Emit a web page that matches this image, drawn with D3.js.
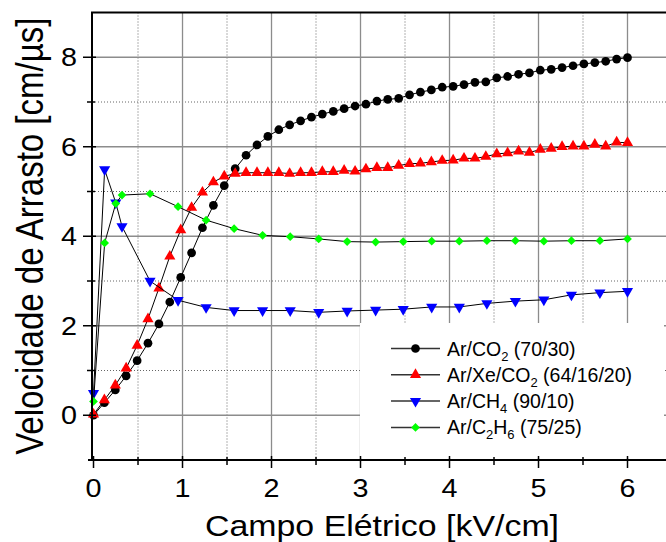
<!DOCTYPE html>
<meta charset="utf-8">
<head>
    <style>
        body {margin: 0; background: #fff;}
        text {font-family: "Liberation Sans", Arial, sans-serif; fill: black;}
        .grid-major {stroke: #8c8c8c; stroke-width: 1.3;}
        .grid-minor {stroke: #666; stroke-width: 1; stroke-dasharray: 1,2;}
        .axis {stroke: black; stroke-width: 2;}
        .tick {stroke: black; stroke-width: 1.5;}
        .trace {fill: none; stroke: black; stroke-width: 1;}
    </style>
    <script src="https://d3js.org/d3.v7.min.js"></script>
</head>
<body>
<script>

    // campo eletrico (kV/cm) for Ar/CO2 and Ar/Xe/CO2
    var fieldA = [0, 0.122, 0.245, 0.367, 0.49, 0.612, 0.735, 0.857, 0.98, 1.102,
                  1.224, 1.347, 1.469, 1.592, 1.714, 1.837, 1.959, 2.082, 2.204, 2.327,
                  2.449, 2.571, 2.694, 2.816, 2.939, 3.061, 3.184, 3.306, 3.429, 3.551,
                  3.673, 3.796, 3.918, 4.041, 4.163, 4.286, 4.408, 4.531, 4.653, 4.776,
                  4.898, 5.02, 5.143, 5.265, 5.388, 5.51, 5.633, 5.755, 5.878, 6.0];

    var arCO2 = [0, 0.28, 0.565, 0.88, 1.22, 1.61, 2.04, 2.53, 3.08, 3.63,
                 4.19, 4.69, 5.13, 5.51, 5.81, 6.04, 6.23, 6.38, 6.49, 6.58,
                 6.66, 6.73, 6.79, 6.85, 6.91, 6.95, 7.02, 7.06, 7.08, 7.16,
                 7.22, 7.27, 7.33, 7.35, 7.39, 7.44, 7.45, 7.54, 7.57, 7.62,
                 7.65, 7.71, 7.73, 7.77, 7.81, 7.85, 7.88, 7.91, 7.96, 7.99];

    var arXeCO2 = [0.02, 0.34, 0.67, 1.05, 1.56, 2.15, 2.84, 3.55, 4.14, 4.64,
                   4.98, 5.21, 5.34, 5.40, 5.42, 5.42, 5.42, 5.42, 5.40, 5.42,
                   5.42, 5.44, 5.44, 5.47, 5.45, 5.50, 5.53, 5.53, 5.58, 5.62,
                   5.63, 5.66, 5.69, 5.70, 5.74, 5.74, 5.78, 5.84, 5.86, 5.90,
                   5.87, 5.94, 5.96, 6.00, 6.01, 6.01, 6.05, 6.01, 6.10, 6.09];

    // campo eletrico for Ar/CH4 and Ar/C2H6
    var fieldB = [0, 0.125, 0.25, 0.32, 0.635, 0.95, 1.265, 1.58, 1.9, 2.21, 2.53,
                  2.85, 3.17, 3.48, 3.8, 4.11, 4.42, 4.74, 5.06, 5.37, 5.69, 6.0];

    var arCH4 = [0.49, 5.49, 4.75, 4.22, 3.0, 2.57, 2.41, 2.34, 2.34, 2.34, 2.30,
                 2.33, 2.35, 2.37, 2.42, 2.42, 2.50, 2.55, 2.58, 2.69, 2.74, 2.77];

    var arC2H6 = [0.31, 3.85, 4.73, 4.92, 4.95, 4.66, 4.36, 4.17, 4.02, 3.99, 3.94,
                  3.88, 3.87, 3.88, 3.89, 3.89, 3.90, 3.90, 3.89, 3.90, 3.90, 3.94];

    var xTicks = [0, 1, 2, 3, 4, 5, 6],
        xTickLabels = ["0", "1", "2", "3", "4", "5", "6"],
        xMinor = [0.5, 1.5, 2.5, 3.5, 4.5, 5.5],
        yTicks = [0, 2, 4, 6, 8],
        yTickLabels = ["0", "2", "4", "6", "8"],
        yMinor = [1, 3, 5, 7];

    var series = [
        {name: ["Ar/CO", "2", " (70/30)"], xs: fieldA, ys: arCO2, color: "#000000", shape: "circle"},
        {name: ["Ar/Xe/CO", "2", " (64/16/20)"], xs: fieldA, ys: arXeCO2, color: "#ff0000", shape: "up"},
        {name: ["Ar/CH", "4", " (90/10)"], xs: fieldB, ys: arCH4, color: "#0000ff", shape: "down"},
        {name: ["Ar/C", "2", "H", "6", " (75/25)"], xs: fieldB, ys: arC2H6, color: "#00ff00", shape: "diamond"}
    ];

    var width = 666, height = 542;

    var x = d3.scaleLinear()
        .domain([-0.017, 6.5])
        .range([92, 672]);

    var y = d3.scaleLinear()
        .domain([-1, 9])
        .range([460, 12.5]);

    var svg = d3.select("body").append("svg")
        .attr("width", width)
        .attr("height", height)
        .style("display", "block");

    svg.append("rect").attr("width", width).attr("height", height).attr("fill", "white");

    // grid
    var grid = svg.append("g");

    grid.selectAll(".gxm").data(xMinor).enter().append("line")
        .attr("class", "grid-minor")
        .attr("x1", function(d) {return x(d)}).attr("x2", function(d) {return x(d)})
        .attr("y1", y(9)).attr("y2", y(-1));

    grid.selectAll(".gym").data(yMinor).enter().append("line")
        .attr("class", "grid-minor")
        .attr("x1", x.range()[0]).attr("x2", x.range()[1])
        .attr("y1", function(d) {return y(d)}).attr("y2", function(d) {return y(d)});

    grid.selectAll(".gx").data(xTicks.slice(1)).enter().append("line")
        .attr("class", "grid-major")
        .attr("x1", function(d) {return x(d)}).attr("x2", function(d) {return x(d)})
        .attr("y1", y(9)).attr("y2", y(-1));

    grid.selectAll(".gy").data(yTicks).enter().append("line")
        .attr("class", "grid-major")
        .attr("x1", x.range()[0]).attr("x2", x.range()[1])
        .attr("y1", function(d) {return y(d)}).attr("y2", function(d) {return y(d)});

    // symbols
    function marker(shape) {
        if (shape == "circle") return d3.symbol().type(d3.symbolCircle).size(60)();
        if (shape == "diamond") return d3.symbol().type(d3.symbolSquare).size(38)();
        return d3.symbol().type(d3.symbolTriangle).size(54)();
    }
    function markerRotate(shape) {
        if (shape == "down") return " rotate(180)";
        if (shape == "diamond") return " rotate(45)";
        return "";
    }

    var line = d3.line()
        .x(function(d) {return x(d[0])})
        .y(function(d) {return y(d[1])});

    series.forEach(function(s) {
        var pts = d3.zip(s.xs, s.ys);
        svg.append("path")
            .attr("class", "trace")
            .attr("d", line(pts));
        svg.append("g").selectAll("path")
            .data(pts)
          .enter().append("path")
            .attr("d", marker(s.shape))
            .attr("fill", s.color)
            .attr("transform", function(d) {return "translate(" + x(d[0]) + "," + y(d[1]) + ")" + markerRotate(s.shape)});
    });

    // legend
    var legend = svg.append("g");
    legend.append("rect")
        .attr("x", 360).attr("y", 323)
        .attr("width", 304).attr("height", 135)
        .attr("fill", "white");

    var rows = legend.selectAll(".row")
        .data(series)
      .enter().append("g")
        .attr("transform", function(d, i) {return "translate(0," + (348.5 + i * 26.3) + ")"});

    rows.append("line")
        .attr("x1", 391).attr("x2", 440)
        .attr("stroke", "#333").attr("stroke-width", 1.5);

    rows.append("path")
        .attr("d", function(d) {return marker(d.shape)})
        .attr("fill", function(d) {return d.color})
        .attr("transform", function(d) {return "translate(415.5,0)" + markerRotate(d.shape)});

    rows.append("text")
        .attr("x", 447).attr("y", 7)
        .style("font-size", "19.5px")
        .each(function(d) {
            var t = d3.select(this);
            d.name.forEach(function(part, k) {
                var sub = k % 2 == 1;
                t.append("tspan")
                    .attr("dy", sub ? 5 : (k == 0 ? 0 : -5))
                    .style("font-size", sub ? "13px" : "19.5px")
                    .text(part);
            });
        });

    // axes frame
    svg.append("line").attr("class", "axis")
        .attr("x1", x.range()[0]).attr("x2", x.range()[0]).attr("y1", y(9)).attr("y2", y(-1) + 1);
    svg.append("line").attr("class", "axis")
        .attr("x1", x.range()[0] - 4).attr("x2", x.range()[1]).attr("y1", y(-1)).attr("y2", y(-1));
    svg.append("line").attr("class", "axis")
        .attr("x1", x.range()[0] - 1).attr("x2", x.range()[1]).attr("y1", y(9)).attr("y2", y(9));
    svg.append("line").attr("class", "axis")
        .attr("x1", x.range()[1]).attr("x2", x.range()[1]).attr("y1", y(9)).attr("y2", y(-1));

    // ticks
    svg.selectAll(".xt").data(xTicks).enter().append("line")
        .attr("class", "tick")
        .attr("x1", function(d) {return x(d)}).attr("x2", function(d) {return x(d)})
        .attr("y1", y(-1) - 4).attr("y2", y(-1) + 8);
    svg.selectAll(".xtm").data(xMinor).enter().append("line")
        .attr("class", "tick")
        .attr("x1", function(d) {return x(d)}).attr("x2", function(d) {return x(d)})
        .attr("y1", y(-1) - 3).attr("y2", y(-1) + 5);
    svg.selectAll(".yt").data(yTicks).enter().append("line")
        .attr("class", "tick")
        .attr("x1", x.range()[0] - 9).attr("x2", x.range()[0] + 4)
        .attr("y1", function(d) {return y(d)}).attr("y2", function(d) {return y(d)});
    svg.selectAll(".ytm").data(yMinor).enter().append("line")
        .attr("class", "tick")
        .attr("x1", x.range()[0] - 5).attr("x2", x.range()[0] + 3)
        .attr("y1", function(d) {return y(d)}).attr("y2", function(d) {return y(d)});

    // tick labels
    svg.selectAll(".xl").data(xTicks).enter().append("text")
        .attr("text-anchor", "middle")
        .style("font-size", "25px")
        .attr("transform", function(d) {return "translate(" + x(d) + ",497) scale(1.15,1)"})
        .text(function(d, i) {return xTickLabels[i]});

    svg.selectAll(".yl").data(yTicks).enter().append("text")
        .attr("text-anchor", "end")
        .style("font-size", "25px")
        .attr("transform", function(d) {return "translate(77," + (y(d) + 9) + ") scale(1.15,1)"})
        .text(function(d, i) {return yTickLabels[i]});

    // titles
    svg.append("text")
        .attr("text-anchor", "middle")
        .style("font-size", "30px")
        .attr("transform", "translate(" + ((x.range()[0] + x.range()[1]) / 2) + ",536) scale(1.13,1)")
        .text("Campo Elétrico [kV/cm]");

    svg.append("text")
        .attr("text-anchor", "middle")
        .style("font-size", "33px")
        .attr("transform", "translate(43," + ((y(9) + y(-1)) / 2) + ") scale(1.17,1) rotate(-90)")
        .text("Velocidade de Arrasto [cm/µs]");

</script>
</body>
